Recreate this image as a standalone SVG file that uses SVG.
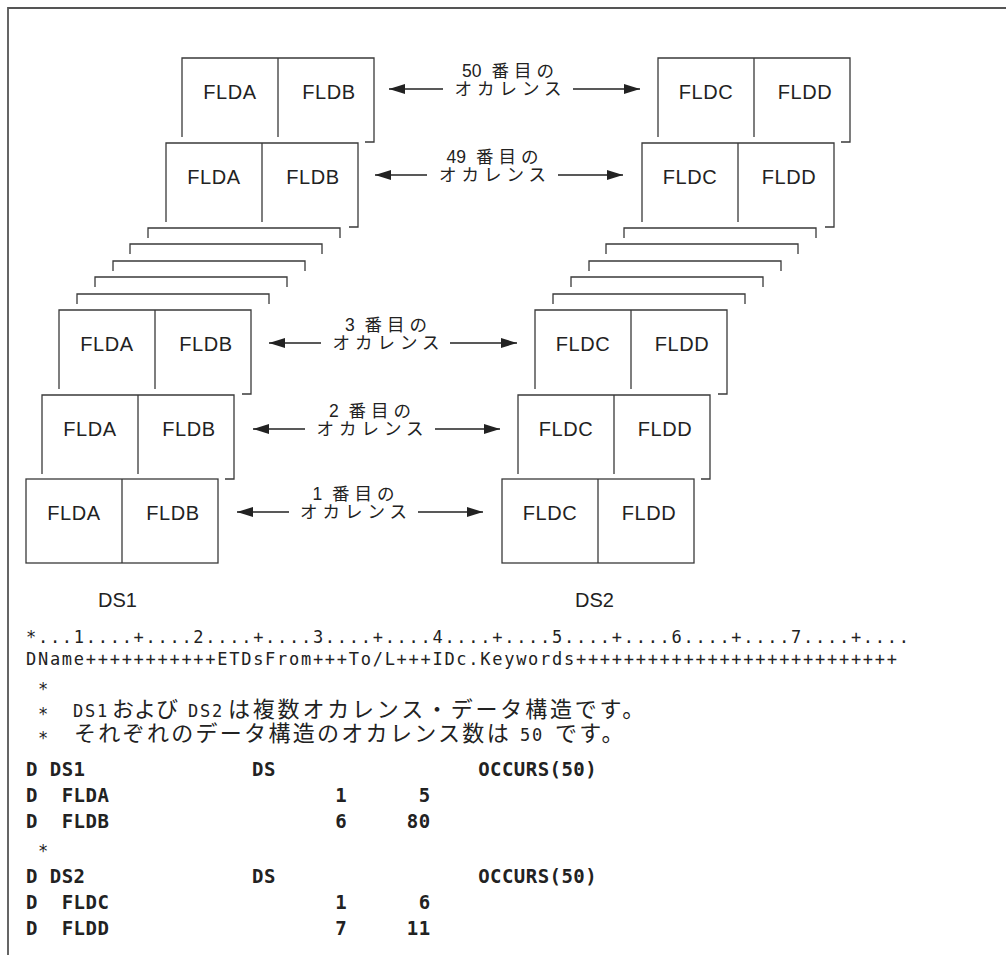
<svg xmlns="http://www.w3.org/2000/svg" width="1006" height="955" viewBox="0 0 1006 955">
<style>
.frame{stroke:#555;stroke-width:1.8;fill:none}
.ln{stroke:#3a3a3a;stroke-width:1.3;fill:none}
.arr{stroke:#222;stroke-width:1.4;fill:none}
.fld{font-family:"Liberation Sans",Arial,sans-serif;font-size:20px;fill:#222;text-anchor:middle;letter-spacing:0.6px}
.lab{font-family:"Liberation Sans","Noto Sans CJK JP",sans-serif;font-size:17.5px;fill:#222;text-anchor:middle}
.kana{letter-spacing:5px}
.ds{font-family:"Liberation Sans",Arial,sans-serif;font-size:20px;fill:#222}
.mono{font-family:"DejaVu Sans Mono","Noto Sans CJK JP",monospace;font-size:17px;fill:#222;letter-spacing:1.72px}
.jp{font-family:"Noto Sans CJK JP",sans-serif;font-size:22px;fill:#222}
.bold{font-family:"DejaVu Sans Mono",monospace;font-size:19px;font-weight:bold;fill:#222;letter-spacing:0.46px}
</style>
<defs>
<marker id="ah" markerUnits="userSpaceOnUse" markerWidth="16" markerHeight="10" refX="16" refY="5" orient="auto">
<path d="M0,0 L16,5 L0,10 z" fill="#222"/>
</marker>
</defs>

<g id="frame">
<path class="frame" d="M8,955 V8 H1006"/>
</g>

<!-- DS1 stack -->
<g id="ds1-occ50">
<path class="ln" d="M182,137 V58 H374 V142 H365 M278,58 V137"/>
<text class="fld" x="230" y="99">FLDA</text>
<text class="fld" x="329" y="99">FLDB</text>
</g>
<g id="ds1-occ49">
<path class="ln" d="M166,222 V143 H358 V227 H349 M262,143 V222"/>
<text class="fld" x="214" y="184">FLDA</text>
<text class="fld" x="313" y="184">FLDB</text>
</g>
<g id="ds1-stack">
<path class="ln" d="M148,238 V228 H340 V238 M130,254 V244 H322 V254 M113,271 V261 H305 V271 M95,287 V277 H287 V287 M77,304 V294 H269 V304"/>
</g>
<g id="ds1-occ3">
<path class="ln" d="M59,389 V310 H251 V394 H242 M155,310 V389"/>
<text class="fld" x="107" y="351">FLDA</text>
<text class="fld" x="206" y="351">FLDB</text>
</g>
<g id="ds1-occ2">
<path class="ln" d="M42,474 V395 H234 V479 H225 M138,395 V474"/>
<text class="fld" x="90" y="436">FLDA</text>
<text class="fld" x="189" y="436">FLDB</text>
</g>
<g id="ds1-occ1">
<rect class="ln" x="26" y="479" width="192" height="84"/>
<path class="ln" d="M122,479 V563"/>
<text class="fld" x="74" y="520">FLDA</text>
<text class="fld" x="173" y="520">FLDB</text>
</g>
<g id="ds1-label"><text class="ds" x="98" y="607">DS1</text></g>

<!-- DS2 stack -->
<g id="ds2-occ50">
<path class="ln" d="M658,137 V58 H850 V142 H841 M754,58 V137"/>
<text class="fld" x="706" y="99">FLDC</text>
<text class="fld" x="805" y="99">FLDD</text>
</g>
<g id="ds2-occ49">
<path class="ln" d="M642,222 V143 H834 V227 H825 M738,143 V222"/>
<text class="fld" x="690" y="184">FLDC</text>
<text class="fld" x="789" y="184">FLDD</text>
</g>
<g id="ds2-stack">
<path class="ln" d="M624,238 V228 H816 V238 M606,254 V244 H798 V254 M589,271 V261 H781 V271 M571,287 V277 H763 V287 M553,304 V294 H745 V304"/>
</g>
<g id="ds2-occ3">
<path class="ln" d="M535,389 V310 H727 V394 H718 M631,310 V389"/>
<text class="fld" x="583" y="351">FLDC</text>
<text class="fld" x="682" y="351">FLDD</text>
</g>
<g id="ds2-occ2">
<path class="ln" d="M518,474 V395 H710 V479 H701 M614,395 V474"/>
<text class="fld" x="566" y="436">FLDC</text>
<text class="fld" x="665" y="436">FLDD</text>
</g>
<g id="ds2-occ1">
<rect class="ln" x="502" y="479" width="192" height="84"/>
<path class="ln" d="M598,479 V563"/>
<text class="fld" x="550" y="520">FLDC</text>
<text class="fld" x="649" y="520">FLDD</text>
</g>
<g id="ds2-label"><text class="ds" x="575" y="607">DS2</text></g>

<!-- connectors -->
<g id="connectors">
<line class="arr" x1="443" y1="89" x2="389" y2="89" marker-end="url(#ah)"/>
<line class="arr" x1="573" y1="89" x2="640" y2="89" marker-end="url(#ah)"/>
<line class="arr" x1="427" y1="175" x2="375" y2="175" marker-end="url(#ah)"/>
<line class="arr" x1="558" y1="175" x2="623" y2="175" marker-end="url(#ah)"/>
<line class="arr" x1="321" y1="343" x2="269" y2="343" marker-end="url(#ah)"/>
<line class="arr" x1="450" y1="343" x2="517" y2="343" marker-end="url(#ah)"/>
<line class="arr" x1="305" y1="429" x2="253" y2="429" marker-end="url(#ah)"/>
<line class="arr" x1="435" y1="429" x2="500" y2="429" marker-end="url(#ah)"/>
<line class="arr" x1="289" y1="512" x2="237" y2="512" marker-end="url(#ah)"/>
<line class="arr" x1="418" y1="512" x2="483" y2="512" marker-end="url(#ah)"/>
</g>

<g id="labels">
<text class="lab" x="510.5" y="77">50<tspan class="kana"> 番目の</tspan></text>
<text class="lab kana" x="510.5" y="95">オカレンス</text>
<text class="lab" x="495" y="163">49<tspan class="kana"> 番目の</tspan></text>
<text class="lab kana" x="495" y="181">オカレンス</text>
<text class="lab" x="388.5" y="331">3<tspan class="kana"> 番目の</tspan></text>
<text class="lab kana" x="388.5" y="349">オカレンス</text>
<text class="lab" x="372.5" y="417">2<tspan class="kana"> 番目の</tspan></text>
<text class="lab kana" x="372.5" y="435">オカレンス</text>
<text class="lab" x="356" y="500">1<tspan class="kana"> 番目の</tspan></text>
<text class="lab kana" x="356" y="518">オカレンス</text>
</g>

<!-- source listing -->
<g id="source">
<text class="mono" x="26" y="643">*...1....+....2....+....3....+....4....+....5....+....6....+....7....+....</text>
<text class="mono" x="26" y="665">DName+++++++++++ETDsFrom+++To/L+++IDc.Keywords+++++++++++++++++++++++++++</text>
<text class="mono" x="38" y="695">*</text>
<text class="mono" x="38" y="720">*</text>
<text class="mono" x="73" y="717">DS1</text>
<text class="jp" x="112" y="717">および</text>
<text class="mono" x="188" y="717">DS2</text>
<text class="jp" x="228" y="717" letter-spacing="2.8">は複数オカレンス・データ構造です。</text>
<text class="mono" x="38" y="744">*</text>
<text class="jp" x="74" y="741" letter-spacing="2.3">それぞれのデータ構造のオカレンス数は</text>
<text class="mono" x="520" y="741">50</text>
<text class="jp" x="555" y="741" letter-spacing="2.3">です。</text>
<text class="bold" x="26" y="776" xml:space="preserve">D DS1              DS                 OCCURS(50)</text>
<text class="bold" x="26" y="802" xml:space="preserve">D  FLDA                   1      5</text>
<text class="bold" x="26" y="828" xml:space="preserve">D  FLDB                   6     80</text>
<text class="mono" x="38" y="857">*</text>
<text class="bold" x="26" y="883" xml:space="preserve">D DS2              DS                 OCCURS(50)</text>
<text class="bold" x="26" y="909" xml:space="preserve">D  FLDC                   1      6</text>
<text class="bold" x="26" y="935" xml:space="preserve">D  FLDD                   7     11</text>
</g>
</svg>
